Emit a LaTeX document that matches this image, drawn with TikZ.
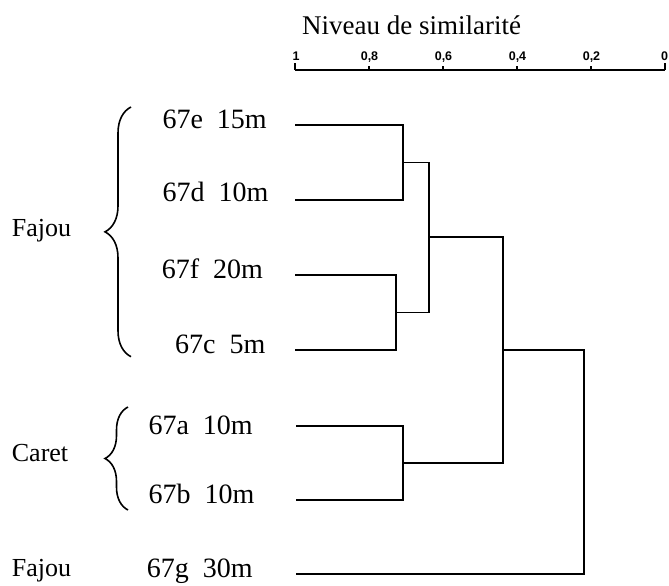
\documentclass[tikz,border=0pt]{standalone}
\usepackage{fontspec}
\setmainfont{Liberation Serif}
\newfontfamily\ticksf{Liberation Sans}
\usetikzlibrary{decorations.pathreplacing}
\begin{document}
\begin{tikzpicture}[x=1pt,y=-1pt,
  lbl/.style={anchor=base west, inner sep=0pt, font=\fontsize{28}{32}\selectfont},
  site/.style={anchor=base west, inner sep=0pt, font=\fontsize{26}{30}\selectfont},
  ticklbl/.style={anchor=base, inner sep=0pt, font=\ticksf\bfseries\fontsize{12.5}{14}\selectfont},
  axisline/.style={line width=1.4pt},
  tree/.style={line width=1.3pt},
  grp/.style={decorate, decoration={brace,amplitude=#1}, line width=1.6pt},
]
\useasboundingbox (0,0) rectangle (669,586);

% title
\node[anchor=base, inner sep=0pt, font=\fontsize{27}{30}\selectfont] (title) at (411.7,35) {Niveau de similarité};

% scale
\coordinate (s1) at (295,70);
\coordinate (s08) at (369,70);
\coordinate (s06) at (443,70);
\coordinate (s04) at (517,70);
\coordinate (s02) at (591,70);
\coordinate (s0) at (665,70);
\draw[axisline] (s1) -- (s0);
\draw[axisline] (s1) -- ++(0,-7);
\draw[axisline] (s0) -- ++(0,-7);
\foreach \c in {s08,s06,s04,s02} \draw[axisline] (\c) -- ++(0,-4);
\node[ticklbl] (t1) at (296,60) {1};
\node[ticklbl] (t08) at (369.5,60) {0,8};
\node[ticklbl] (t06) at (443.5,60) {0,6};
\node[ticklbl] (t04) at (517.5,60) {0,4};
\node[ticklbl] (t02) at (591.5,60) {0,2};
\node[ticklbl] (t0) at (664.5,60) {0};

% sample labels
\node[lbl] (e) at (162.3,128.3) {67e\ \ 15m};
\node[lbl] (d) at (162.3,201.7) {67d\ \ 10m};
\node[lbl] (f) at (161.7,278.3) {67f\ \ 20m};
\node[lbl] (c) at (175,353.3) {67c\ \ 5m};
\node[lbl] (a) at (148.3,434.5) {67a\ \ 10m};
\node[lbl] (b) at (148.3,503.3) {67b\ \ 10m};
\node[lbl] (g) at (146.7,577.5) {67g\ \ 30m};

% site labels
\node[site] (fajou1) at (11.7,236.7) {Fajou};
\node[site] (caret) at (11.7,461.7) {Caret};
\node[site] (fajou2) at (11.7,576) {Fajou};

% braces
\draw[grp=26pt] (131,356.7) -- (131,107);
\draw[grp=23pt] (128,510) -- (128,407);

% dendrogram
\coordinate (le) at (295,125);
\coordinate (ld) at (295,200);
\coordinate (lf) at (295,275);
\coordinate (lc) at (295,350);
\coordinate (la) at (296,426);
\coordinate (lb) at (296,500);
\coordinate (lg) at (296,574);
\coordinate (ed) at (403,162.5);
\coordinate (fc) at (396,312.5);
\coordinate (edfc) at (429,237);
\coordinate (ab) at (403,463);
\coordinate (top) at (503,350);
\coordinate (root) at (584,574);

\draw[tree] (le) -| (ed) |- (ld);
\draw[tree] (lf) -| (fc) |- (lc);
\draw[tree] (la) -| (ab) |- (lb);
\draw[tree] (ed) -| (edfc) |- (fc);
\draw[tree] (edfc) -| (top) |- (ab);
\draw[tree] (top) -| (root) -- (lg);
\end{tikzpicture}
\end{document}
